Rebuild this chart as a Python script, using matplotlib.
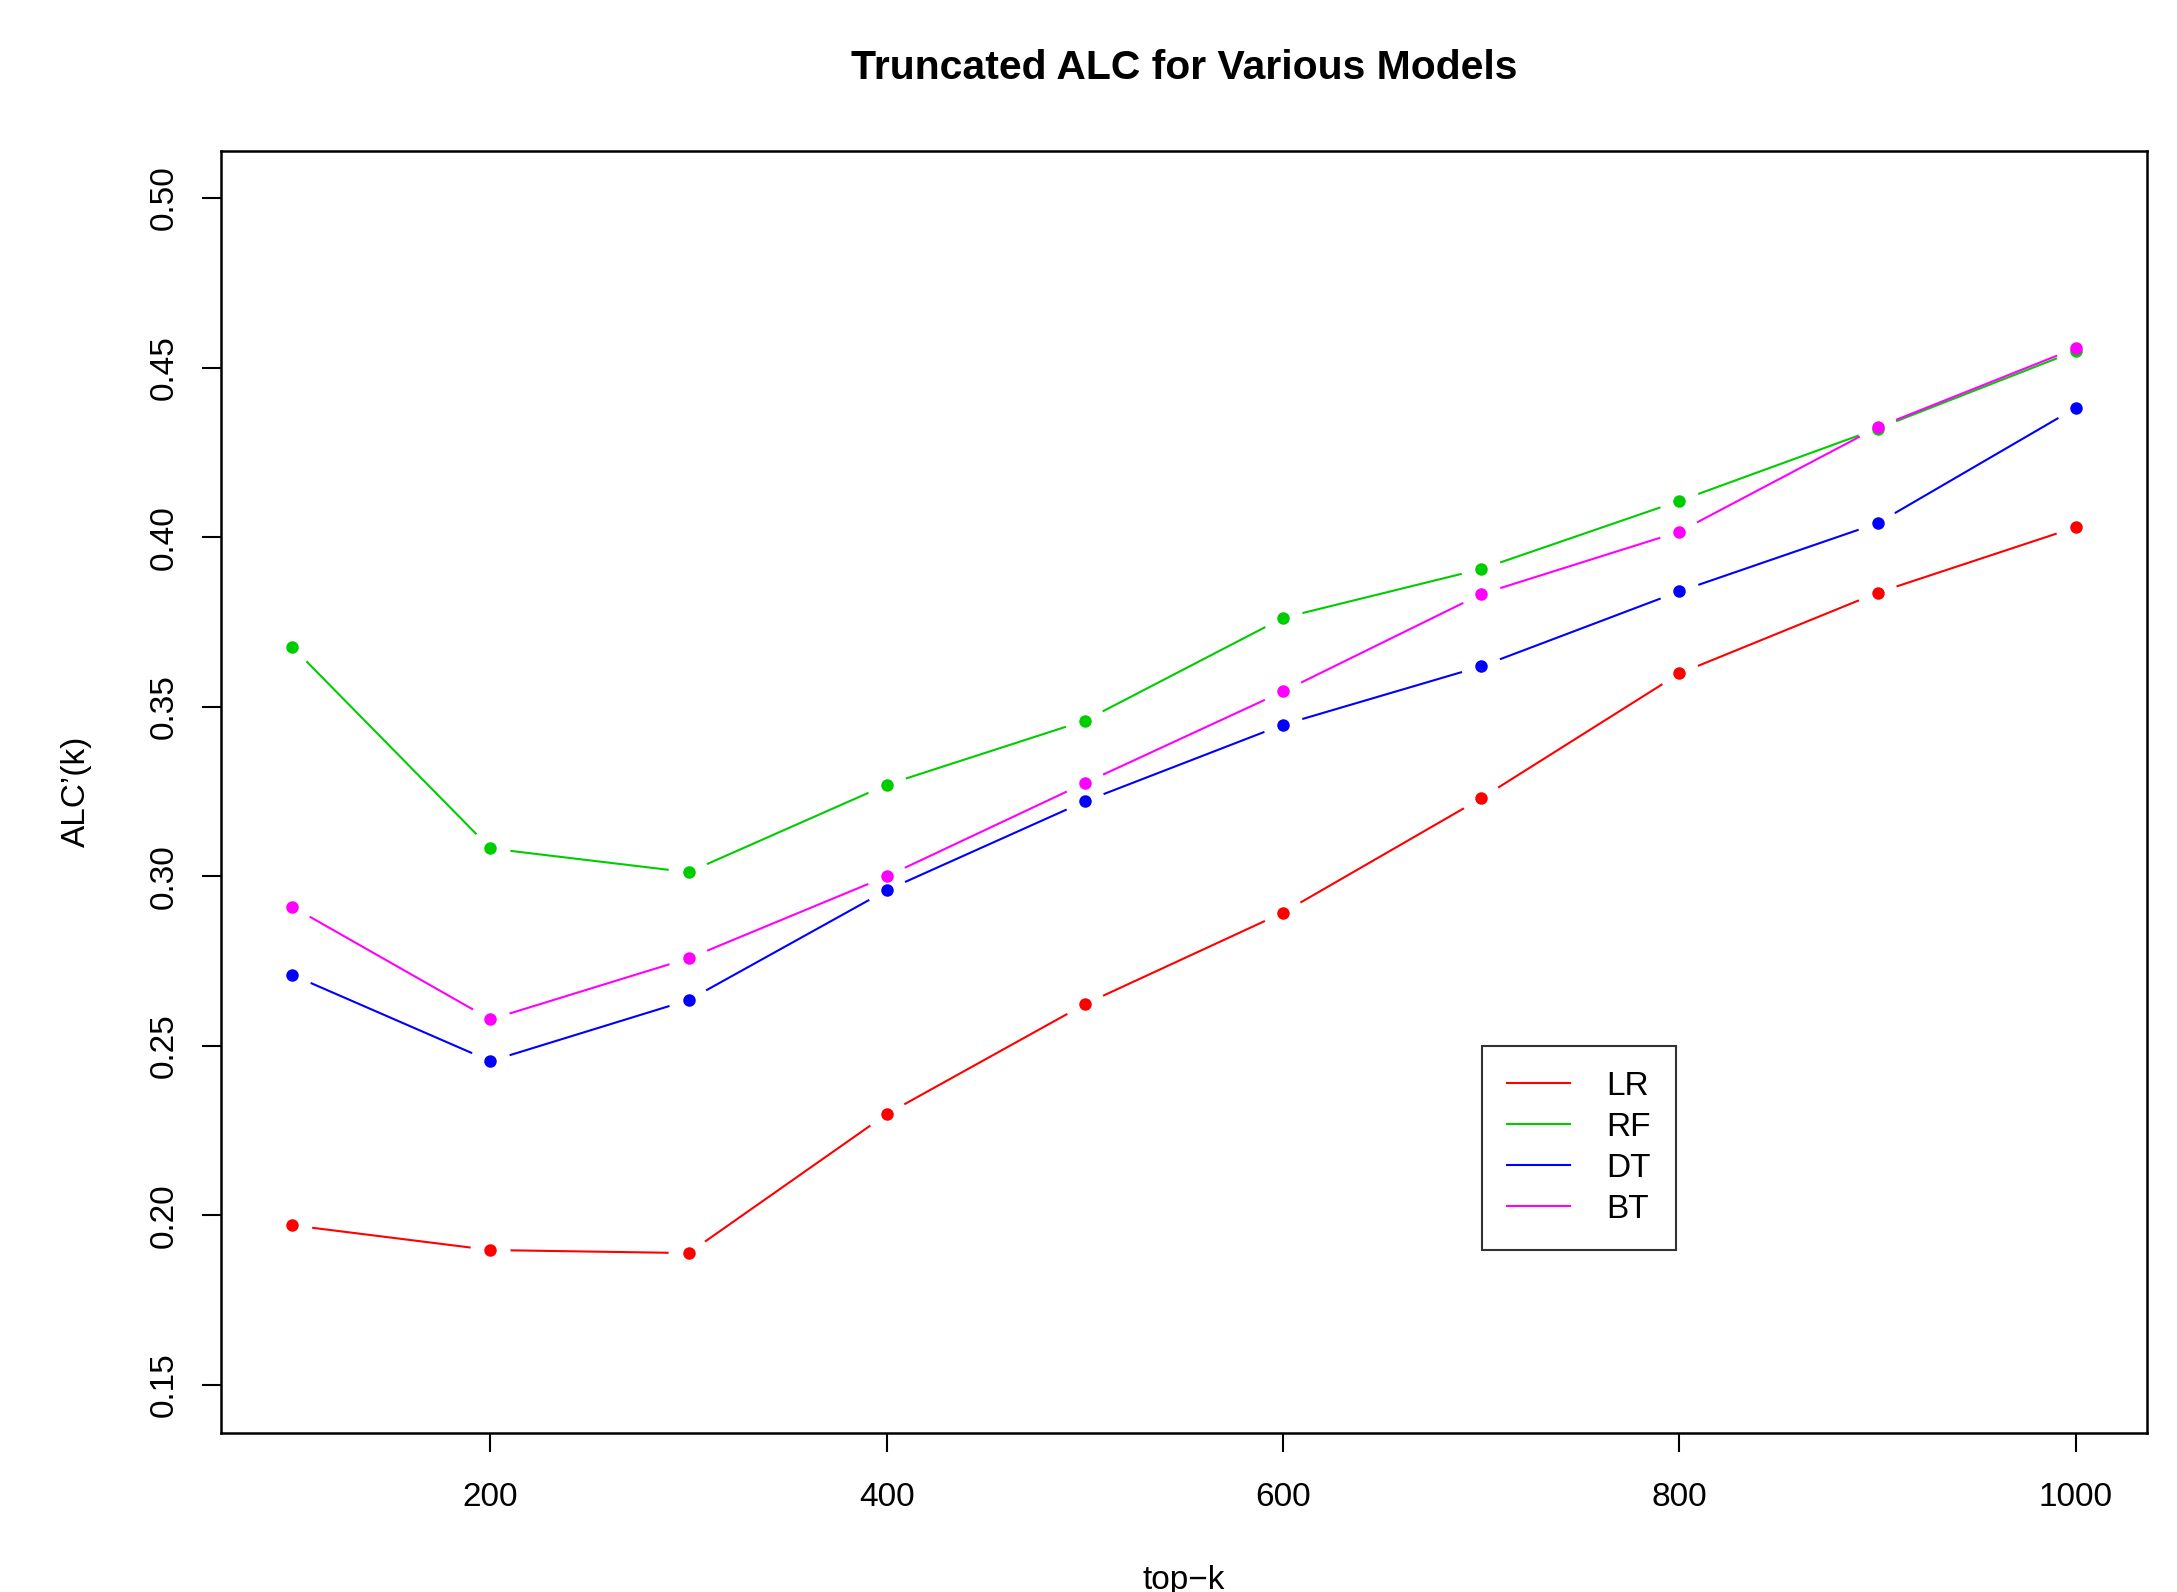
import numpy as np
import matplotlib
matplotlib.use("Agg")
import matplotlib.pyplot as plt
from matplotlib.lines import Line2D

plt.rcParams['font.family'] = ['Liberation Sans', 'DejaVu Sans']

topk = [100, 200, 300, 400, 500, 600, 700, 800, 900, 1000]
LR = [0.1971, 0.1898, 0.1889, 0.2299, 0.2623, 0.2893, 0.3230, 0.3598, 0.3836, 0.4029]
RF = [0.3676, 0.3082, 0.3012, 0.3270, 0.3459, 0.3762, 0.3906, 0.4107, 0.4320, 0.4549]
DT = [0.2709, 0.2455, 0.2635, 0.2959, 0.3221, 0.3447, 0.3619, 0.3840, 0.4041, 0.4381]
BT = [0.2910, 0.2578, 0.2758, 0.3000, 0.3275, 0.3545, 0.3832, 0.4016, 0.4324, 0.4557]
series_names = ["LR", "RF", "DT", "BT"]
series_vals = [LR, RF, DT, BT]
colors = ["#FF0000", "#00CD00", "#0000FF", "#FF00FF"]
xticks = [200, 400, 600, 800, 1000]
yticks = [0.15, 0.20, 0.25, 0.30, 0.35, 0.40, 0.45, 0.50]

W, H = 2177, 1592
fig = plt.figure(figsize=(W / 100, H / 100), dpi=100)
L, R, T, B = 221, 2147, 150.5, 1432.5
ax = fig.add_axes([L / W, 1 - B / H, (R - L) / W, (B - T) / H])
ax.set_xlim(64, 1036)
ax.set_ylim(0.136, 0.514)

gap = 20  # px gap around points (R type="b")
inv = ax.transData.inverted()
for vals, c in zip(series_vals, colors):
    pts = ax.transData.transform(np.column_stack([topk, vals]))
    for i in range(len(pts) - 1):
        p0, p1 = pts[i], pts[i + 1]
        d = p1 - p0
        ln = np.hypot(*d)
        if ln <= 2 * gap:
            continue
        u = d / ln
        seg = inv.transform(np.vstack([p0 + u * gap, p1 - u * gap]))
        ax.plot(seg[:, 0], seg[:, 1], color=c, lw=1.5, solid_capstyle='butt')
    ax.plot(topk, vals, 'o', color=c, ms=9, mec='none', zorder=3)

for s in ax.spines.values():
    s.set_linewidth(1.8)
ax.set_xticks(xticks)
ax.set_xticklabels([str(v) for v in xticks])
ax.set_yticks(yticks)
ax.set_yticklabels([f"{v:.2f}" for v in yticks], rotation=90, va='center')
ax.tick_params(axis='both', direction='out', length=14, width=1.5, labelsize=24)
ax.tick_params(axis='x', pad=22)
ax.tick_params(axis='y', pad=16)

handles = [Line2D([0], [0], color=c, lw=1.5) for c in colors]
leg = ax.legend(handles, series_names, loc='upper left',
                bbox_to_anchor=((1481.5 - L) / (R - L), (B - 1045.7) / (B - T)),
                borderaxespad=0, fontsize=24, frameon=True, fancybox=False,
                edgecolor='black', handlelength=1.9, handletextpad=1.1,
                labelspacing=0.3, borderpad=0.75)
leg.get_frame().set_linewidth(1.5)

fig.text((L + R) / 2 / W, 1 - 68 / H, "Truncated ALC for Various Models",
         ha='center', va='center', fontsize=29.4, fontweight='bold')
fig.text((L + R) / 2 / W, 1 - 1580 / H, "top\u2212k", ha='center', va='center', fontsize=24)
fig.text(76 / W, 1 - (T + B) / 2 / H, "ALC\u2019(k)", ha='center', va='center',
         fontsize=24, rotation=90)

fig.savefig("out.png", dpi=100)
